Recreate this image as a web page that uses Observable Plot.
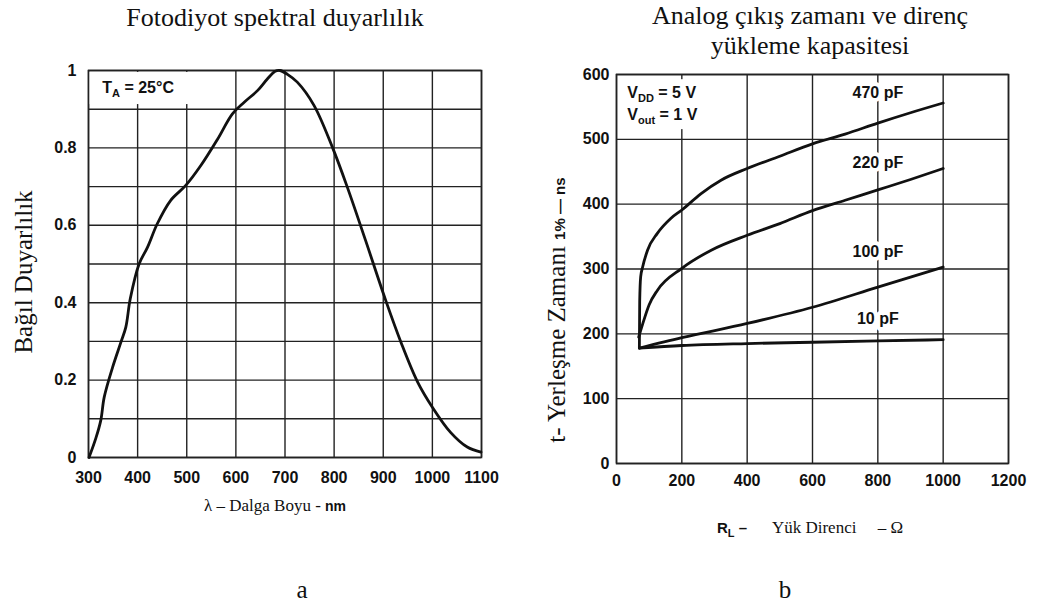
<!DOCTYPE html>
<html>
<head>
<meta charset="utf-8">
<script src="https://cdn.jsdelivr.net/npm/d3@7"></script>
<script src="https://cdn.jsdelivr.net/npm/@observablehq/plot@0.6"></script>
<style>
  html, body { margin: 0; padding: 0; background: #fff; }
  #page { position: relative; width: 1045px; height: 609px; overflow: hidden; background: #fff; color: #111; }
  .abs { position: absolute; white-space: nowrap; transform: translate(-50%, -50%); line-height: 1.1; }
  .serif { font-family: "Liberation Serif", "Times New Roman", serif; }
  .sans { font-family: "Liberation Sans", Arial, sans-serif; font-weight: bold; }
  .rot { transform: translate(-50%, -50%) rotate(-90deg); }
  svg { position: absolute; top: 0; }
</style>
</head>
<body>
<div id="page">
  <div class="abs serif" style="left:275px; top:18px; font-size:26px;">Fotodiyot spektral duyarlılık</div>
  <div class="abs serif" style="left:810px; top:16px; font-size:26px;">Analog çıkış zamanı ve direnç</div>
  <div class="abs serif" style="left:810px; top:46px; font-size:26px;">yükleme kapasitesi</div>
  <div class="abs serif rot" style="left:24px; top:272px; font-size:25px;">Bağıl Duyarlılık</div>
  <div class="abs serif rot" style="left:557px; top:310px; font-size:25px;">t- Yerleşme Zamanı <span class="sans" style="font-size:15px;">1% — ns</span></div>
  <div class="abs serif" style="left:275px; top:506px; font-size:17px;">λ – Dalga Boyu - <span class="sans" style="font-size:14px;">nm</span></div>
  <div class="abs serif" style="left:810px; top:529px; font-size:17px;"><span class="sans" style="font-size:15px;">R<sub style="font-size:11px;">L</sub> –</span>&nbsp;&nbsp;&nbsp;&nbsp;&nbsp; Yük Direnci &nbsp;&nbsp;&nbsp; – Ω</div>
  <div class="abs serif" style="left:302px; top:590px; font-size:25px;">a</div>
  <div class="abs serif" style="left:785px; top:590px; font-size:25px;">b</div>
</div>
<script>
// ---------- Data: photodiode spectral response (chart a) ----------
const wavelength = [301, 315, 325, 332, 349, 366, 376, 385, 403, 420, 440, 467, 498, 529, 563, 593, 617, 644, 664, 680, 690, 705, 725, 759, 797, 827, 864, 905, 936, 970, 1000, 1037, 1071, 1099];
const response   = [0, 0.05, 0.096, 0.156, 0.233, 0.298, 0.337, 0.41, 0.5, 0.543, 0.604, 0.664, 0.703, 0.755, 0.823, 0.888, 0.918, 0.948, 0.978, 0.998, 1.0, 0.99, 0.97, 0.91, 0.80, 0.698, 0.561, 0.406, 0.298, 0.195, 0.13, 0.065, 0.027, 0.014];
const wavelengthTicks = [300, 400, 500, 600, 700, 800, 900, 1000, 1100];
const responseTicks = [0, 0.2, 0.4, 0.6, 0.8, 1];
const responseGrid = [0, 0.1, 0.2, 0.3, 0.4, 0.5, 0.6, 0.7, 0.8, 0.9, 1];
const noteA = ["T{A} = 25°C"];

// ---------- Data: settling time vs load resistance (chart b) ----------
const r470 = [70, 71, 74, 80, 95, 125, 166, 200, 258, 320, 400, 500, 600, 700, 800, 900, 1000];
const t470 = [178, 250, 288, 303, 329, 355, 378, 391, 416, 437, 455, 474, 493, 508, 525, 541, 556];
const r220 = [68, 80, 100, 125, 200, 290, 400, 500, 600, 700, 800, 900, 1000];
const t220 = [195, 215, 245, 267, 301, 329, 352, 370, 390, 406, 422, 438, 455];
const r100 = [70, 200, 400, 600, 800, 1000];
const t100 = [178, 194, 216, 241, 272, 303];
const r10  = [70, 200, 400, 600, 800, 1000];
const t10  = [178, 182, 185, 187, 189, 191];
const capLabels = ["470 pF", "220 pF", "100 pF", "10 pF"];
const capLabelR = [800, 800, 800, 800];
const capLabelT = [571, 464, 326, 223];
const resistanceTicks = [0, 200, 400, 600, 800, 1000, 1200];
const timeTicks = [0, 100, 200, 300, 400, 500, 600];
const noteB = ["V{DD} = 5 V", "V{out} = 1 V"];
const noteBR = [33, 33];
const noteBT = [571, 537];

const INK = "#111";
const GRID = "#222";
const TICKFONT = {fontFamily: "Liberation Sans, Arial, sans-serif", fontWeight: "bold", fontSize: 16, fill: INK};

function subscripts(svg) {
  const ns = "http://www.w3.org/2000/svg";
  svg.querySelectorAll("text").forEach(t => {
    if (t.children.length === 0 && t.textContent.includes("{")) {
      const m = t.textContent.match(/^(.*?)\{(.*?)\}(.*)$/);
      if (!m) return;
      t.textContent = "";
      const a = document.createElementNS(ns, "tspan"); a.textContent = m[1];
      const b = document.createElementNS(ns, "tspan"); b.textContent = m[2];
      b.setAttribute("font-size", "11"); b.setAttribute("dy", "4");
      const c = document.createElementNS(ns, "tspan"); c.textContent = m[3];
      c.setAttribute("dy", "-4");
      t.append(a, b, c);
    }
  });
}

// ---------- Chart a ----------
const specData = wavelength.map((w, i) => ({w, r: response[i]}));
const chartA = Plot.plot({
  width: 520, height: 609,
  marginLeft: 88, marginRight: 39, marginTop: 70, marginBottom: 152,
  x: {domain: [300, 1100]},
  y: {domain: [0, 1]},
  style: {background: "transparent", overflow: "visible"},
  marks: [
    Plot.ruleX(wavelengthTicks, {stroke: GRID, strokeWidth: 1.4}),
    Plot.ruleY(responseGrid, {stroke: GRID, strokeWidth: 1.4}),
    Plot.rect([{a: 300, b: 505, c: 0.912, d: 0.995}], {x1: "a", x2: "b", y1: "c", y2: "d", fill: "white"}),
    Plot.frame({stroke: GRID, strokeWidth: 1.6}),
    Plot.line(specData, {x: "w", y: "r", stroke: INK, strokeWidth: 2.8, curve: "catmull-rom"}),
    Plot.text(noteA, {x: () => 328, y: () => 0.955, text: d => d, textAnchor: "start", ...TICKFONT}),
    Plot.axisX({ticks: wavelengthTicks, tickSize: 0, tickPadding: 14, tickFormat: d => String(d), label: null, ...TICKFONT}),
    Plot.axisY({ticks: responseTicks, tickSize: 0, tickPadding: 12, tickFormat: d => String(d), label: null, ...TICKFONT})
  ]
});
chartA.style.left = "0px";
subscripts(chartA);
document.getElementById("page").appendChild(chartA);

// ---------- Chart b ----------
const series = [
  ...r470.map((r, i) => ({r, t: t470[i], c: "470 pF"})),
  ...r220.map((r, i) => ({r, t: t220[i], c: "220 pF"})),
  ...r100.map((r, i) => ({r, t: t100[i], c: "100 pF"})),
  ...r10.map((r, i) => ({r, t: t10[i], c: "10 pF"}))
];
const labels = capLabels.map((c, i) => ({c, r: capLabelR[i], t: capLabelT[i]}));
const notes = noteB.map((s, i) => ({s, r: noteBR[i], t: noteBT[i]}));
const chartB = Plot.plot({
  width: 525, height: 609,
  marginLeft: 96, marginRight: 37, marginTop: 74, marginBottom: 146,
  x: {domain: [0, 1200]},
  y: {domain: [0, 600]},
  style: {background: "transparent", overflow: "visible"},
  marks: [
    Plot.ruleX(resistanceTicks, {stroke: GRID, strokeWidth: 1.4}),
    Plot.ruleY(timeTicks, {stroke: GRID, strokeWidth: 1.4}),
    Plot.rect([{a: 12, b: 275, c: 515, d: 592}], {x1: "a", x2: "b", y1: "c", y2: "d", fill: "white"}),
    Plot.frame({stroke: GRID, strokeWidth: 1.6}),
    Plot.line(series, {x: "r", y: "t", z: "c", stroke: INK, strokeWidth: 2.8, curve: "monotone-x"}),
    Plot.text(labels, {x: "r", y: "t", text: "c", textAnchor: "middle", stroke: "white", strokeWidth: 8, paintOrder: "stroke", ...TICKFONT}),
    Plot.text(notes, {x: "r", y: "t", text: "s", textAnchor: "start", ...TICKFONT}),
    Plot.axisX({ticks: resistanceTicks, tickSize: 0, tickPadding: 11, tickFormat: d => String(d), label: null, ...TICKFONT}),
    Plot.axisY({ticks: timeTicks, tickSize: 0, tickPadding: 7, tickFormat: d => String(d), label: null, ...TICKFONT})
  ]
});
chartB.style.left = "520px";
subscripts(chartB);
document.getElementById("page").appendChild(chartB);
</script>
</body>
</html>
